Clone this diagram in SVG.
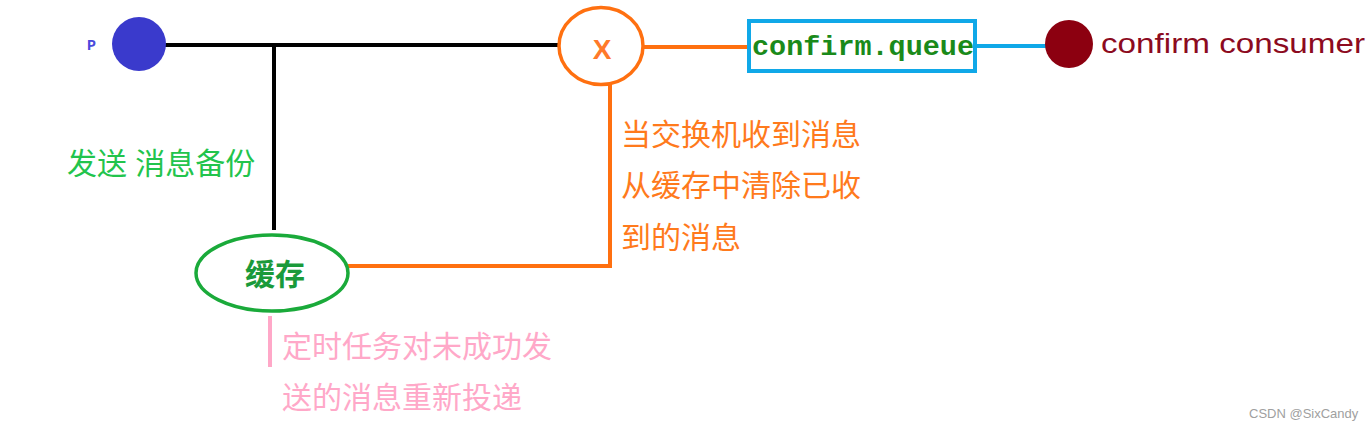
<svg xmlns="http://www.w3.org/2000/svg" width="1372" height="430" viewBox="0 0 1372 430">
<style>
.cn{font-family:"Liberation Sans","Noto Sans CJK SC",sans-serif;font-size:30px}
.or{fill:#ff7a1c}
.gr{fill:#22c44c}
.pk{fill:#ffa8c8}
</style>
<rect width="1372" height="430" fill="#ffffff"/>
<g id="connectors" fill="none">
<line x1="164" y1="45" x2="560" y2="45" stroke="#000" stroke-width="4"/>
<line x1="274" y1="45" x2="274" y2="230" stroke="#000" stroke-width="4"/>
<line x1="644" y1="47" x2="747" y2="47" stroke="#ff7010" stroke-width="4"/>
<polyline points="610,84 610,266 348,266" stroke="#ff7010" stroke-width="4"/>
<line x1="976" y1="46" x2="1047" y2="46" stroke="#10a8e8" stroke-width="4"/>
<line x1="270" y1="316" x2="270" y2="367" stroke="#ffa8c8" stroke-width="4"/>
<circle cx="603" cy="84" r="1.5" fill="#ff0000"/>
</g>
<g id="producer">
<text x="87" y="50" font-family="Liberation Mono,monospace" font-weight="bold" font-size="15" fill="#4a4adc">P</text>
<circle cx="139" cy="44" r="27" fill="#3a3acc"/>
</g>
<g id="exchange">
<ellipse cx="601" cy="46" rx="42" ry="38.5" fill="#fff" stroke="#ff7010" stroke-width="3.5"/>
<text x="602" y="59" text-anchor="middle" font-family="Liberation Sans,sans-serif" font-weight="bold" font-size="28" fill="#ff7a2a">X</text>
</g>
<g id="queue">
<rect x="749" y="21" width="226" height="50" fill="#fff" stroke="#10a8e8" stroke-width="4"/>
<text x="752" y="55" font-family="Liberation Mono,monospace" font-weight="bold" font-size="28" fill="#1a8a1a" textLength="222" lengthAdjust="spacingAndGlyphs">confirm.queue</text>
</g>
<g id="consumer">
<circle cx="1069" cy="44" r="24" fill="#8c0010"/>
<text x="1101" y="53" font-family="Liberation Sans,sans-serif" font-size="28" fill="#8c0a20" textLength="264" lengthAdjust="spacingAndGlyphs">confirm consumer</text>
</g>
<g id="cache">
<ellipse cx="272" cy="273" rx="76" ry="38" fill="#fff" stroke="#1aaa3a" stroke-width="3.5"/>
<text x="275" y="285" text-anchor="middle" font-family="Liberation Sans,'Noto Sans CJK SC',sans-serif" font-weight="bold" font-size="30" fill="#1a9a3a">缓存</text>
</g>
<g id="labels">
<text class="cn gr" x="67" y="174">发送 消息备份</text>
<text class="cn or" x="621" y="145">当交换机收到消息</text>
<text class="cn or" x="621" y="196">从缓存中清除已收</text>
<text class="cn or" x="621" y="248">到的消息</text>
<text class="cn pk" x="282" y="357">定时任务对未成功发</text>
<text class="cn pk" x="282" y="408">送的消息重新投递</text>
<text x="1249" y="418" font-family="Liberation Sans,sans-serif" font-size="13" fill="#a0a0a0">CSDN @SixCandy</text>
</g>
</svg>
